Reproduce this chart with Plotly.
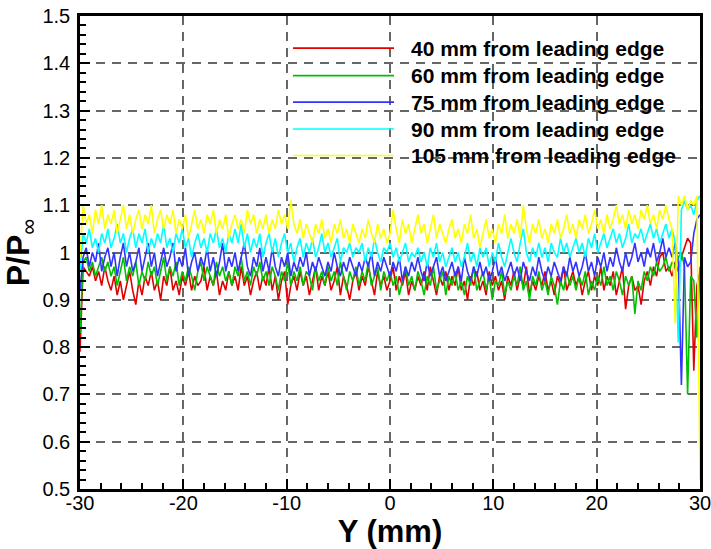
import numpy as np
import plotly.graph_objects as go

# Spanwise stations (mm), 0.3 mm spacing across the plate
Y_MM = np.round(np.linspace(-30, 30, 201), 2)

P_40 = [
    0.79, 0.97, 0.96, 0.95, 0.97, 0.94, 0.96, 0.93, 0.97, 0.94,
    0.92, 0.95, 0.91, 0.94, 0.90, 0.93, 0.96, 0.92, 0.89, 0.94,
    0.91, 0.95, 0.93, 0.96, 0.92, 0.94, 0.90, 0.95, 0.93, 0.97,
    0.92, 0.94, 0.91, 0.95, 0.93, 0.96, 0.92, 0.95, 0.93, 0.94,
    0.97, 0.92, 0.95, 0.93, 0.96, 0.91, 0.94, 0.92, 0.96, 0.93,
    0.95, 0.92, 0.97, 0.93, 0.95, 0.91, 0.94, 0.96, 0.92, 0.95,
    0.93, 0.97, 0.92, 0.95, 0.90, 0.94, 0.96, 0.89, 0.93, 0.95,
    0.92, 0.96, 0.93, 0.95, 0.91, 0.94, 0.97, 0.92, 0.95, 0.93,
    0.96, 0.92, 0.94, 0.97, 0.91, 0.95, 0.93, 0.90, 0.94, 0.96,
    0.92, 0.95, 0.93, 0.97, 0.94, 0.91, 0.96, 0.93, 0.95, 0.92,
    0.94, 0.97, 0.92, 0.95, 0.93, 0.96, 0.91, 0.94, 0.92, 0.95,
    0.93, 0.96, 0.92, 0.97, 0.94, 0.91, 0.95, 0.93, 0.96, 0.92,
    0.95, 0.93, 0.97, 0.92, 0.94, 0.90, 0.95, 0.93, 0.96, 0.92,
    0.94, 0.91, 0.96, 0.93, 0.95, 0.92, 0.94, 0.90, 0.95, 0.93,
    0.96, 0.92, 0.95, 0.93, 0.97, 0.91, 0.94, 0.92, 0.95, 0.93,
    0.96, 0.92, 0.94, 0.91, 0.95, 0.93, 0.97, 0.92, 0.94, 0.96,
    0.93, 0.95, 0.91, 0.94, 0.96, 0.92, 0.95, 0.93, 0.97, 0.92,
    0.95, 0.93, 0.96, 0.91, 0.94, 0.97, 0.88, 0.93, 0.95, 0.92,
    0.93, 0.89, 0.94, 0.96, 0.93, 0.97, 0.95, 0.99, 1.00, 0.96,
    0.97, 0.95, 0.98, 0.96, 0.99, 1.01, 1.03, 1.02, 0.75, 0.93,
    0.96,
]

P_60 = [
    0.83, 0.98, 0.99, 0.96, 0.98, 0.95, 0.97, 0.99, 0.96, 0.98,
    0.95, 0.97, 0.93, 0.96, 0.99, 0.94, 0.97, 0.95, 0.98, 0.93,
    0.96, 0.94, 0.98, 0.95, 0.97, 0.93, 0.96, 0.99, 0.94, 0.97,
    0.95, 0.98, 0.93, 0.96, 0.94, 0.97, 0.95, 0.92, 0.96, 0.98,
    0.94, 0.97, 0.95, 0.93, 0.98, 0.95, 0.97, 0.94, 0.96, 0.93,
    0.97, 0.95, 0.99, 0.94, 0.96, 0.93, 0.97, 0.95, 0.98, 0.94,
    0.96, 0.93, 0.97, 0.95, 0.92, 0.96, 0.94, 0.98, 0.93, 0.96,
    0.94, 0.97, 0.93, 0.96, 0.95, 0.92, 0.97, 0.94, 0.96, 0.93,
    0.97, 0.94, 0.96, 0.93, 0.98, 0.95, 0.92, 0.96, 0.94, 0.97,
    0.93, 0.96, 0.94, 0.98, 0.93, 0.95, 0.97, 0.92, 0.96, 0.94,
    0.96, 0.93, 0.95, 0.91, 0.94, 0.97, 0.93, 0.95, 0.92, 0.96,
    0.94, 0.91, 0.95, 0.93, 0.97, 0.92, 0.94, 0.96, 0.91, 0.95,
    0.93, 0.96, 0.92, 0.94, 0.91, 0.95, 0.93, 0.97, 0.92, 0.94,
    0.96, 0.92, 0.95, 0.90, 0.94, 0.93, 0.96, 0.91, 0.94, 0.92,
    0.95, 0.93, 0.97, 0.92, 0.94, 0.90, 0.95, 0.93, 0.96, 0.92,
    0.94, 0.91, 0.95, 0.93, 0.89, 0.94, 0.92, 0.96, 0.93, 0.95,
    0.92, 0.95, 0.93, 0.96, 0.91, 0.94, 0.92, 0.95, 0.93, 0.97,
    0.93, 0.95, 0.92, 0.96, 0.94, 0.91, 0.95, 0.93, 0.95, 0.87,
    0.94, 0.92, 0.96, 0.94, 0.97, 0.95, 0.98, 0.96, 0.97, 0.99,
    0.96, 0.98, 0.97, 0.99, 1.00, 0.97, 0.70, 0.95, 0.94, 0.82,
    0.97,
]

P_75 = [
    0.92, 0.99, 1.01, 0.97, 1.00, 0.98, 1.02, 0.96, 0.99, 1.01,
    0.97, 1.00, 0.95, 0.99, 1.02, 0.97, 1.00, 0.96, 0.98, 1.01,
    0.96, 0.99, 1.02, 0.97, 1.00, 0.95, 0.98, 1.01, 0.97, 0.99,
    1.02, 0.96, 0.99, 0.97, 1.01, 0.95, 0.98, 1.00, 0.96, 0.99,
    0.97, 1.01, 0.96, 0.99, 0.95, 0.98, 1.02, 0.96, 0.99, 0.97,
    1.00, 0.96, 0.99, 1.02, 0.97, 0.95, 0.99, 0.97, 1.01, 0.96,
    0.99, 0.96, 1.01, 0.97, 0.95, 0.99, 0.97, 1.00, 0.95, 0.98,
    0.96, 0.99, 0.97, 1.00, 0.95, 0.98, 0.96, 0.99, 0.97, 0.95,
    0.98, 0.96, 1.00, 0.97, 0.95, 0.98, 0.96, 0.99, 0.97, 0.95,
    0.98, 0.96, 0.99, 0.97, 1.00, 0.95, 0.98, 0.96, 0.99, 0.97,
    0.95, 0.98, 0.96, 0.99, 0.94, 0.97, 0.95, 0.98, 0.96, 0.99,
    0.96, 0.94, 0.98, 0.95, 0.97, 0.99, 0.95, 0.97, 0.94, 0.96,
    0.98, 0.95, 0.97, 0.94, 0.99, 0.96, 0.94, 0.97, 0.95, 0.98,
    0.95, 0.97, 0.94, 0.96, 0.99, 0.95, 0.97, 0.94, 0.96, 0.98,
    0.95, 0.97, 0.94, 0.98, 0.96, 0.94, 0.97, 0.95, 0.99, 0.96,
    0.94, 0.97, 0.95, 0.98, 0.96, 0.94, 0.97, 0.95, 0.99, 0.96,
    0.98, 0.95, 0.97, 1.00, 0.96, 0.98, 0.95, 0.99, 0.97, 1.00,
    0.96, 0.99, 0.97, 1.01, 0.98, 0.96, 1.00, 0.97, 0.99, 1.02,
    0.98, 1.00, 0.97, 1.01, 0.99, 1.02, 0.98, 1.00, 1.03, 0.99,
    1.01, 0.99, 1.02, 0.98, 0.72, 0.99, 0.97, 0.98, 1.04, 1.07,
    1.08,
]

P_90 = [
    0.96, 1.04, 1.02, 1.05, 1.01, 1.03, 1.00, 1.04, 1.02, 1.05,
    1.01, 1.03, 1.06, 1.02, 1.04, 1.00, 1.03, 1.05, 1.01, 1.04,
    1.02, 1.05, 1.00, 1.03, 1.01, 1.04, 1.02, 1.06, 1.01, 1.03,
    1.00, 1.04, 1.02, 1.05, 1.01, 1.03, 0.99, 1.02, 1.04, 1.01,
    1.03, 1.00, 1.04, 1.02, 1.05, 1.01, 1.03, 1.00, 1.04, 1.02,
    1.05, 1.02, 1.06, 1.01, 1.04, 1.00, 1.03, 1.01, 1.04, 0.99,
    1.02, 1.04, 1.00, 1.03, 0.99, 1.02, 1.04, 1.00, 1.02, 0.98,
    1.01, 1.03, 0.99, 1.02, 1.00, 1.03, 0.99, 1.01, 1.04, 1.00,
    1.02, 0.99, 1.01, 1.03, 0.98, 1.01, 1.00, 1.02, 0.99, 1.01,
    1.00, 1.02, 0.98, 1.01, 0.99, 1.03, 1.00, 0.98, 1.01, 1.00,
    1.02, 0.99, 1.01, 0.98, 1.00, 1.02, 0.98, 1.00, 0.99, 1.01,
    0.98, 1.00, 0.97, 1.01, 0.99, 1.02, 0.98, 1.00, 0.97, 0.99,
    1.01, 0.98, 1.00, 0.97, 0.99, 1.02, 0.98, 1.00, 0.97, 1.01,
    0.99, 1.01, 0.97, 1.00, 0.98, 1.02, 0.99, 0.97, 1.00, 1.03,
    1.00, 0.98, 1.02, 1.05, 1.00, 0.98, 1.01, 0.99, 1.02, 0.99,
    1.01, 0.98, 1.02, 1.00, 0.99, 1.03, 1.00, 1.02, 0.99, 1.01,
    1.03, 1.00, 1.02, 0.99, 1.03, 1.01, 1.04, 1.00, 1.02, 1.04,
    1.01, 1.03, 1.05, 1.02, 1.04, 1.01, 1.03, 1.06, 1.02, 1.04,
    1.03, 1.05, 1.02, 1.04, 1.06, 1.03, 1.05, 1.02, 1.04, 1.06,
    1.03, 1.05, 1.02, 0.81, 1.09, 1.11, 1.09, 1.10, 1.08, 1.11,
    1.12,
]

P_105 = [
    0.99, 1.10, 1.06, 1.08, 1.04, 1.09, 1.06, 1.10, 1.05, 1.08,
    1.06, 1.09, 1.04, 1.07, 1.10, 1.05, 1.08, 1.04, 1.07, 1.09,
    1.05, 1.08, 1.06, 1.10, 1.04, 1.07, 1.09, 1.05, 1.08, 1.06,
    1.09, 1.04, 1.07, 1.05, 1.08, 1.03, 1.06, 1.09, 1.05, 1.07,
    1.04, 1.08, 1.06, 1.09, 1.04, 1.07, 1.05, 1.08, 1.03, 1.06,
    1.08, 1.05, 1.07, 1.04, 1.09, 1.06, 1.08, 1.04, 1.07, 1.05,
    1.08, 1.04, 1.07, 1.05, 1.09, 1.06, 1.08, 1.05, 1.11, 1.06,
    1.04, 1.07, 1.03, 1.06, 1.04, 1.02, 1.06, 1.04, 1.07, 1.03,
    1.05, 1.02, 1.06, 1.04, 1.07, 1.03, 1.05, 1.02, 1.06, 1.04,
    1.02, 1.05, 1.03, 1.07, 1.04, 1.02, 1.06, 1.03, 1.05, 1.02,
    1.04, 1.09, 1.05, 1.02, 1.07, 1.04, 1.06, 1.02, 1.05, 1.08,
    1.04, 1.06, 1.02, 1.05, 1.08, 1.03, 1.06, 1.04, 1.02, 1.05,
    1.07, 1.03, 1.05, 1.02, 1.06, 1.04, 1.08, 1.03, 1.05, 1.01,
    1.04, 1.07, 1.03, 1.05, 1.02, 1.06, 1.04, 1.08, 1.03, 1.06,
    1.04, 1.07, 1.03, 1.10, 1.05, 1.02, 1.06, 1.04, 1.07, 1.03,
    1.05, 1.02, 1.06, 1.04, 1.07, 1.03, 1.05, 1.08, 1.04, 1.06,
    1.03, 1.07, 1.05, 1.08, 1.04, 1.06, 1.09, 1.05, 1.07, 1.04,
    1.08, 1.05, 1.07, 1.10, 1.06, 1.08, 1.05, 1.09, 1.06, 1.08,
    1.05, 1.09, 1.07, 1.10, 1.06, 1.08, 1.05, 1.09, 1.07, 1.10,
    1.07, 1.05, 0.85, 1.12, 1.10, 1.12, 1.09, 1.11, 1.10, 1.12,
    0.52,
]

SERIES_NAMES = [
    "40 mm from leading edge",
    "60 mm from leading edge",
    "75 mm from leading edge",
    "90 mm from leading edge",
    "105 mm from leading edge",
]
SERIES_VALUES = [P_40, P_60, P_75, P_90, P_105]
SERIES_COLORS = ["#e00000", "#00c000", "#3333ff", "#00ffff", "#ffff00"]

X_TICKS = [-30, -20, -10, 0, 10, 20, 30]
X_TICK_TEXT = ["-30", "-20", "-10", "0", "10", "20", "30"]
Y_TICKS = [0.5, 0.6, 0.7, 0.8, 0.9, 1.0, 1.1, 1.2, 1.3, 1.4, 1.5]
Y_TICK_TEXT = ["0.5", "0.6", "0.7", "0.8", "0.9", "1", "1.1", "1.2", "1.3", "1.4", "1.5"]

FONT = "Liberation Sans, Arial, sans-serif"

fig = go.Figure()
for name, vals, col in zip(SERIES_NAMES, SERIES_VALUES, SERIES_COLORS):
    fig.add_trace(go.Scatter(
        x=Y_MM, y=vals, mode="lines", name=name,
        line=dict(color=col, width=1.6), showlegend=False,
    ))

# Legend drawn as long line samples with bold labels inside the frame
legend_rows = [0.932, 0.874, 0.818, 0.761, 0.705]
for row_y, name, col in zip(legend_rows, SERIES_NAMES, SERIES_COLORS):
    fig.add_shape(type="line", xref="paper", yref="paper",
                  x0=0.3435, x1=0.5065, y0=row_y, y1=row_y,
                  line=dict(color=col, width=1.6), layer="above")
    fig.add_annotation(xref="paper", yref="paper", x=0.531, y=row_y,
                       xanchor="left", yanchor="middle", showarrow=False,
                       text="<b>" + name + "</b>",
                       font=dict(family=FONT, size=21, color="black"))

axis_common = dict(
    showline=True, linecolor="black", linewidth=2.5, mirror=True,
    ticks="inside", ticklen=10, tickwidth=2, tickcolor="black",
    showgrid=True, gridcolor="#666666", gridwidth=1.5, griddash="9px,7px",
    zeroline=False, tickfont=dict(family=FONT, size=20, color="black"),
)

fig.update_xaxes(
    range=[-30, 30], tickvals=X_TICKS, ticktext=X_TICK_TEXT,
    ticklabelstandoff=-6, ticklabeloverflow="allow",
    minor=dict(ticks="inside", ticklen=6, tickwidth=1.5, tickcolor="black",
               dtick=2, tick0=-30, showgrid=False),
    title=dict(text="<b>Y (mm)</b>", font=dict(family=FONT, size=31, color="black"),
               standoff=10),
    **axis_common,
)
fig.update_yaxes(
    range=[0.5, 1.5], tickvals=Y_TICKS, ticktext=Y_TICK_TEXT,
    ticklabelstandoff=3,
    minor=dict(ticks="inside", ticklen=6, tickwidth=1.5, tickcolor="black",
               dtick=0.02, tick0=0.5, showgrid=False),
    title=dict(text="<b>P/P</b><sub>∞</sub>", font=dict(family=FONT, size=32, color="black"),
               standoff=6),
    **axis_common,
)

fig.update_layout(
    width=711, height=549,
    margin=dict(l=80, r=11, t=16, b=60, autoexpand=False),
    plot_bgcolor="white", paper_bgcolor="white",
    showlegend=False,
)

fig.write_html("out.html")
